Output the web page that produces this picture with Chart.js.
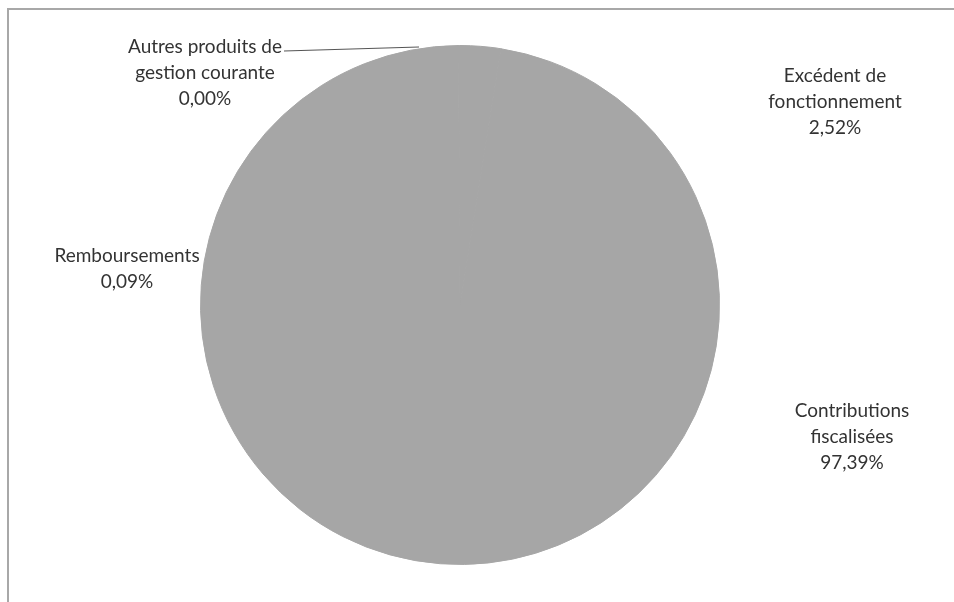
<!DOCTYPE html>
<html lang="fr">
<head>
    <meta charset="UTF-8">
    <title>Répartition des recettes</title>
    <script src="https://cdn.jsdelivr.net/npm/chart.js@4/dist/chart.umd.min.js"></script>
    <style>
        * { margin: 0; padding: 0; box-sizing: border-box; }
        body { background: #fff; width: 954px; height: 602px; overflow: hidden; }
        .frame {
            position: absolute;
            left: 7px;
            top: 8px;
            width: 960px;
            height: 610px;
            border-left: 2px solid #a8a8a8;
            border-top: 2px solid #a8a8a8;
        }
        .wrap { position: absolute; left: 0; top: 0; width: 954px; height: 602px; }
    </style>
</head>
<body>
    <div class="frame"></div>
    <div class="wrap"><canvas id="pie"></canvas></div>

    <script>
        const categories = ['Excédent de fonctionnement', 'Contributions fiscalisées', 'Remboursements', 'Autres produits de gestion courante'];
        const shares = [2.52, 97.39, 0.09, 0.00];

        // label text lines and where each block sits (centre x, first line y)
        const labelLines = [
            ['Excédent de', 'fonctionnement'],
            ['Contributions', 'fiscalisées'],
            ['Remboursements'],
            ['Autres produits de', 'gestion courante']
        ];
        const labelPos = [
            { x: 835, y: 76 },
            { x: 852, y: 411 },
            { x: 127, y: 256 },
            { x: 205, y: 47 }
        ];

        const fmt = v => v.toFixed(2).replace('.', ',') + '%';

        const pieLabels = {
            id: 'pieLabels',
            afterDatasetsDraw(chart) {
                const ctx = chart.ctx;
                ctx.save();
                ctx.font = '19px Lato, "Open Sans", sans-serif';
                ctx.fillStyle = '#333';
                ctx.textAlign = 'center';
                ctx.textBaseline = 'middle';
                shares.forEach((v, i) => {
                    const lines = labelLines[i].concat(fmt(v));
                    lines.forEach((t, k) => {
                        ctx.fillText(t, labelPos[i].x, labelPos[i].y + k * 26);
                    });
                });

                // leader line for the empty slice
                const w = ctx.measureText(labelLines[3][0]).width;
                ctx.strokeStyle = '#555';
                ctx.lineWidth = 1.2;
                ctx.beginPath();
                ctx.moveTo(labelPos[3].x + w / 2 + 2, labelPos[3].y + 4);
                ctx.lineTo(419, 47);
                ctx.stroke();
                ctx.restore();
            }
        };

        new Chart(document.getElementById('pie'), {
            type: 'pie',
            data: {
                labels: categories,
                datasets: [{
                    data: shares,
                    backgroundColor: '#a6a6a6',
                    borderColor: '#a6a6a6',
                    borderWidth: 1
                }]
            },
            options: {
                responsive: true,
                maintainAspectRatio: false,
                animation: false,
                layout: { padding: { top: 45, bottom: 37, left: 0, right: 34 } },
                plugins: {
                    legend: { display: false },
                    tooltip: { enabled: false }
                }
            },
            plugins: [pieLabels]
        });
    </script>
</body>
</html>
